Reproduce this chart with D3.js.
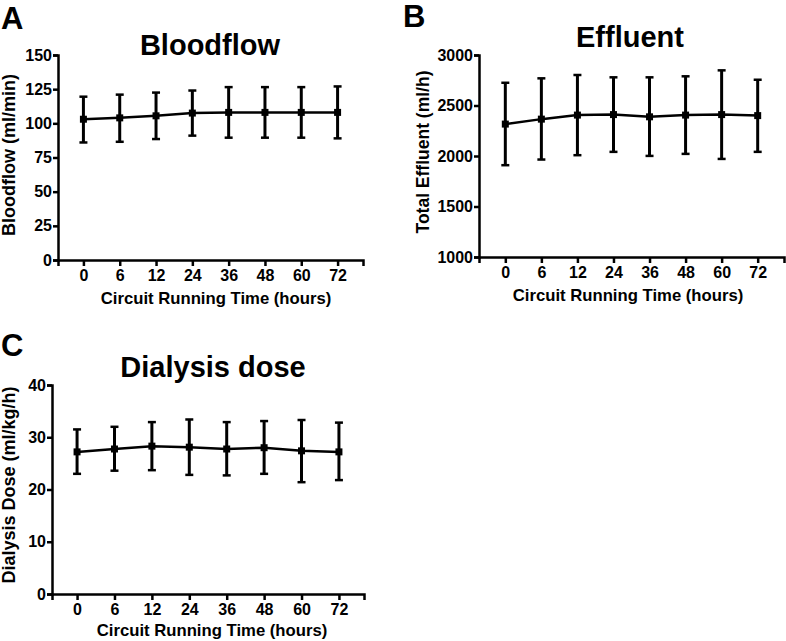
<!DOCTYPE html>
<html>
<head>
<meta charset="utf-8">
<script src="https://cdn.jsdelivr.net/npm/d3@7"></script>
<style>
  body { margin: 0; background: #fff; }
  svg { display: block; font-family: "Liberation Sans", Arial, Helvetica, sans-serif; font-weight: bold; }
</style>
</head>
<body>
<svg id="chart" width="786" height="641"></svg>
<script>
// categories (hours)
var hours = ["0", "6", "12", "24", "36", "48", "60", "72"];

// A - bloodflow (ml/min)
var bloodMean = [103, 104, 105.5, 107.5, 108, 108, 108, 108];
var bloodLow  = [86, 86.5, 88.5, 91, 89.5, 89.5, 89.5, 89];
var bloodHigh = [119.5, 121, 122.5, 124, 126.5, 126.5, 126.5, 127];
var bloodTicks = [0, 25, 50, 75, 100, 125, 150];

// B - total effluent (ml/h)
var effMean = [2316, 2365, 2405, 2410, 2388, 2405, 2410, 2400];
var effLow  = [1909, 1965, 2008, 2041, 2001, 2021, 1971, 2041];
var effHigh = [2725, 2769, 2802, 2779, 2779, 2789, 2848, 2755];
var effTicks = [1000, 1500, 2000, 2500, 3000];

// C - dialysis dose (ml/kg/h)
var doseMean = [27.2, 27.75, 28.3, 28.1, 27.75, 28.0, 27.4, 27.2];
var doseLow  = [23.0, 23.6, 23.7, 22.8, 22.7, 23.0, 21.4, 21.8];
var doseHigh = [31.5, 32.0, 32.9, 33.4, 32.9, 33.1, 33.3, 32.8];
var doseTicks = [0, 10, 20, 30, 40];

var svg = d3.select('#chart');

var drawPanel = function (p) {
	var g = svg.append('g');

	var x = d3.scalePoint()
		.domain(hours)
		.range([p.left, p.right])
		.padding(p.pad);

	var y = d3.scaleLinear()
		.domain([p.ticks[0], p.ticks[p.ticks.length - 1]])
		.range([p.bottom, p.top]);

	var yAxis = g.append('g')
		.attr('transform', 'translate(' + p.left + ',0)')
		.call(d3.axisLeft(y).tickValues(p.ticks).tickFormat(d3.format('d'))
			.tickSizeOuter(0).tickSize(5).tickPadding(1));

	var xAxis = g.append('g')
		.attr('transform', 'translate(0,' + p.bottom + ')')
		.call(d3.axisBottom(x).tickSizeOuter(0).tickSize(6).tickPadding(4));

	[xAxis, yAxis].forEach(function (a) {
		a.attr('font-family', null).attr('font-size', null);
		a.selectAll('path, line').attr('stroke', '#000').attr('stroke-width', 2.5);
		a.selectAll('text')
			.attr('fill', '#000')
			.style('font-size', '16px')
			.style('font-weight', 'bold');
	});

	// error bars
	var bars = g.append('g');
	hours.forEach(function (h, i) {
		var cx = x(h);
		bars.append('line')
			.attr('x1', cx).attr('x2', cx)
			.attr('y1', y(p.low[i])).attr('y2', y(p.high[i]))
			.attr('stroke', '#000').attr('stroke-width', 3);
		[p.low[i], p.high[i]].forEach(function (v) {
			bars.append('line')
				.attr('x1', cx - 4).attr('x2', cx + 4)
				.attr('y1', y(v)).attr('y2', y(v))
				.attr('stroke', '#000').attr('stroke-width', 2.5);
		});
	});

	var line = d3.line()
		.x(function (d, i) { return x(hours[i]); })
		.y(function (d) { return y(d); });

	g.append('path')
		.datum(p.mean)
		.attr('d', line)
		.attr('fill', 'none')
		.attr('stroke', '#000')
		.attr('stroke-width', 2.5);

	g.selectAll('rect.pt')
		.data(p.mean)
		.enter().append('rect')
		.attr('class', 'pt')
		.attr('x', function (d, i) { return x(hours[i]) - 3.5; })
		.attr('y', function (d) { return y(d) - 3.5; })
		.attr('width', 7)
		.attr('height', 7)
		.attr('fill', '#000');

	// titles
	g.append('text')
		.text(p.title)
		.attr('x', p.titleX).attr('y', p.titleY)
		.attr('text-anchor', 'middle')
		.style('font-size', '29px');

	g.append('text')
		.text(p.letter)
		.attr('x', p.letterX).attr('y', p.letterY)
		.style('font-size', '31px');

	g.append('text')
		.text('Circuit Running Time (hours)')
		.attr('x', p.xTitleX).attr('y', p.xTitleY)
		.attr('text-anchor', 'middle')
		.style('font-size', '16.7px');

	g.append('text')
		.text(p.yTitle)
		.attr('transform', 'translate(' + p.yTitleX + ',' + p.yTitleY + ') rotate(-90)')
		.attr('text-anchor', 'middle')
		.style('font-size', p.yTitleSize);
};

drawPanel({
	letter: 'A', letterX: 1, letterY: 29,
	title: 'Bloodflow', titleX: 210, titleY: 55,
	yTitle: 'Bloodflow (ml/min)', yTitleX: 15, yTitleY: 155, yTitleSize: '18px',
	left: 58, right: 363, top: 55, bottom: 260, pad: 0.7,
	ticks: bloodTicks, mean: bloodMean, low: bloodLow, high: bloodHigh,
	xTitleX: 216, xTitleY: 304
});

drawPanel({
	letter: 'B', letterX: 403, letterY: 27,
	title: 'Effluent', titleX: 630, titleY: 47,
	yTitle: 'Total Effluent (ml/h)', yTitleX: 429, yTitleY: 152, yTitleSize: '17.5px',
	left: 479, right: 784, top: 55, bottom: 257, pad: 0.73,
	ticks: effTicks, mean: effMean, low: effLow, high: effHigh,
	xTitleX: 628, xTitleY: 301
});

drawPanel({
	letter: 'C', letterX: 1, letterY: 356,
	title: 'Dialysis dose', titleX: 213, titleY: 377,
	yTitle: 'Dialysis Dose (ml/kg/h)', yTitleX: 15, yTitleY: 485, yTitleSize: '18px',
	left: 52, right: 364, top: 385, bottom: 594, pad: 0.67,
	ticks: doseTicks, mean: doseMean, low: doseLow, high: doseHigh,
	xTitleX: 212, xTitleY: 636
});
</script>
</body>
</html>
